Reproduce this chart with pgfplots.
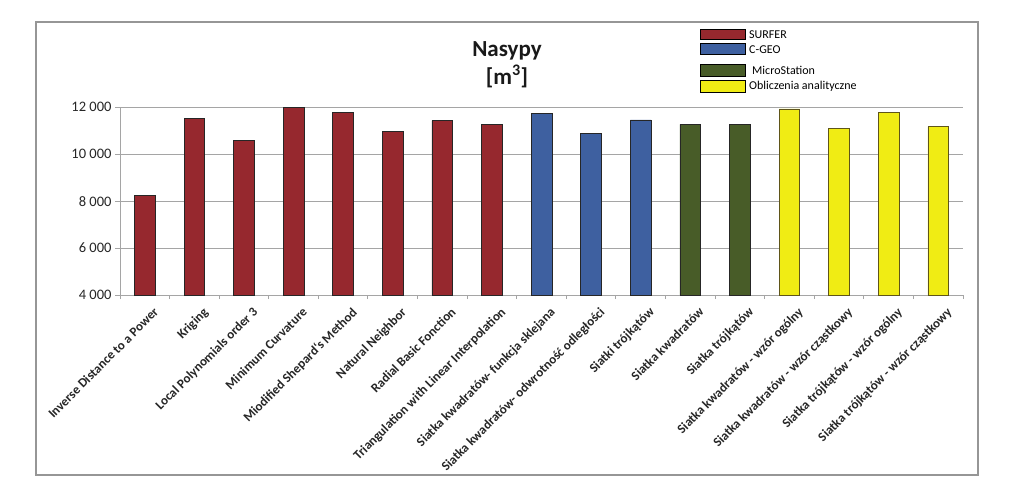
\documentclass[border=0pt]{standalone}
\usepackage{fontspec}
\setmainfont{Carlito}
\usepackage{pgfplots}
\pgfplotsset{compat=1.18}
\definecolor{surfer}{RGB}{150,40,46}
\definecolor{cgeo}{RGB}{62,96,160}
\definecolor{micro}{RGB}{72,92,40}
\definecolor{anal}{RGB}{240,236,20}
\definecolor{analedge}{RGB}{95,85,25}
\definecolor{framegray}{RGB}{150,150,150}
\definecolor{gridgray}{RGB}{165,165,165}
\begin{document}
\begin{tikzpicture}[x=1pt,y=1pt]
\path[use as bounding box] (0,0) rectangle (1024,491);
\draw[framegray, line width=2pt] (36,16) rectangle (978,469);
\begin{axis}[
  at={(120pt,196pt)}, anchor=south west,
  scale only axis, width=843pt, height=187.7pt,
  xmin=-0.5, xmax=16.5, ymin=4000, ymax=12000,
  scaled y ticks=false,
  /pgf/number format/assume math mode=true,
  ytick={4000,6000,8000,10000,12000},
  yticklabels={4 000,6 000,8 000,10 000,12 000},
  ymajorgrids, grid style={gridgray, line width=1pt},
  axis x line*=bottom, axis y line*=left,
  axis line style={gridgray, line width=1pt, -},
  xtick={0,...,16},
  minor xtick={-0.5,0.5,...,16.5},
  major x tick style={draw=none},
  minor tick style={gridgray, line width=1pt},
  major tick style={gridgray, line width=1pt},
  tick align=outside,
  major tick length=5pt, minor tick length=4pt,
  yticklabel style={font=\fontsize{14.5}{16}\selectfont, text=black!85},
  xticklabel style={font=\bfseries\fontsize{13}{15}\selectfont, rotate=45, anchor=north east, inner sep=0pt, xshift=1pt, yshift=-10pt, text=black!85},
  xticklabels={{Inverse Distance to a Power},{Kriging},{Local Polynomials order 3},{Minimum Curvature},{Miodified Shepard`s Method},{Natural Neighbor},{Radial Basic Fonction},{Triangulation with Linear Interpolation},{Siatka kwadratów- funkcja sklejana},{Siatka kwadratów- odwrotność odległości},{Siatki trójkątów},{Siatka kwadratów},{Siatka trójkątów},{Siatka kwadratów - wzór ogólny},{Siatka kwadratów - wzór cząstkowy},{Siatka trójkątów - wzór ogólny},{Siatka trójkątów - wzór cząstkowy}},
]
\addplot[ybar, bar width=20.7pt, bar shift=0pt, fill=surfer, draw=black!85, line width=0.7pt]
  coordinates {(0,8250) (1,11530) (2,10580) (3,12000) (4,11770) (5,10960) (6,11430) (7,11260)};
\addplot[ybar, bar width=20.7pt, bar shift=0pt, fill=cgeo, draw=black!85, line width=0.7pt]
  coordinates {(8,11740) (9,10900) (10,11460)};
\addplot[ybar, bar width=20.7pt, bar shift=0pt, fill=micro, draw=black!85, line width=0.7pt]
  coordinates {(11,11270) (12,11270)};
\addplot[ybar, bar width=20.7pt, bar shift=0pt, fill=anal, draw=analedge, line width=0.7pt]
  coordinates {(13,11930) (14,11100) (15,11770) (16,11170)};
\end{axis}
% title
\node[anchor=base, font=\bfseries\fontsize{23}{28}\selectfont, text=black!90] at (507,434.3) {Nasypy};
\node[anchor=base, font=\bfseries\fontsize{23}{28}\selectfont, text=black!90] at (507,406) {[m\textsuperscript{3}]};
% legend
\begin{scope}[line width=1pt]
\draw[black, fill=surfer] (700,451.7) rectangle (745,461.7);
\draw[black, fill=cgeo] (700,436) rectangle (745,447);
\draw[black, fill=micro] (700,414.3) rectangle (745,426);
\draw[black, fill=anal] (700,398.7) rectangle (745,410.3);
\end{scope}
\begin{scope}[font=\fontsize{12}{14}\selectfont, inner sep=0pt]
\node[anchor=west] at (749,456.7) {SURFER};
\node[anchor=west] at (749,441.5) {C-GEO};
\node[anchor=west] at (752,420.2) {MicroStation};
\node[anchor=west] at (749,404.5) {Obliczenia analityczne};
\end{scope}
\end{tikzpicture}
\end{document}
